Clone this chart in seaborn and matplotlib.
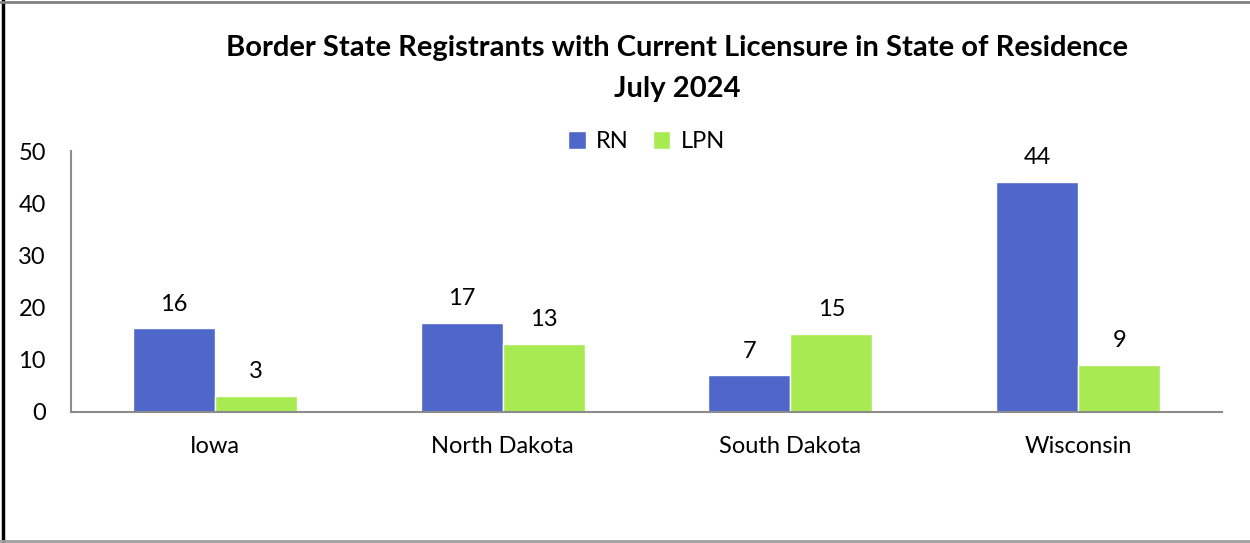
import matplotlib.pyplot as plt
import seaborn as sns
import pandas as pd
from matplotlib.lines import Line2D

states = ["Iowa", "North Dakota", "South Dakota", "Wisconsin"]
rn = [16, 17, 7, 44]
lpn = [3, 13, 15, 9]
series = ["RN", "LPN"]
colors = ["#4E67C8", "#A7EA52"]

df = pd.DataFrame({
    "State": states * 2,
    "Count": rn + lpn,
    "Type": ["RN"] * len(states) + ["LPN"] * len(states),
})

sns.set_style("white")
plt.rcParams["font.family"] = ["Lato", "DejaVu Sans"]
plt.rcParams["text.color"] = "black"

fig = plt.figure(figsize=(12.5, 5.43), dpi=100)
ax = fig.add_axes([0.0568, 0.2413, 0.9208, 0.4806])

sns.barplot(data=df, x="State", y="Count", hue="Type", hue_order=series,
            palette=colors, width=0.57, saturation=1, ax=ax, legend=True)

for cont in ax.containers:
    ax.bar_label(cont, padding=10, fontsize=17, color="black")

ax.set_ylim(0, 50)
ax.set_yticks([0, 10, 20, 30, 40, 50])
ax.set_xlabel("")
ax.set_ylabel("")
ax.tick_params(axis="both", length=0, labelsize=17, colors="black")
ax.tick_params(axis="x", pad=17)
ax.tick_params(axis="y", pad=18)
for s in ["top", "right"]:
    ax.spines[s].set_visible(False)
for s in ["left", "bottom"]:
    ax.spines[s].set_color("#8c8c8c")
    ax.spines[s].set_linewidth(1.5)

ax.legend(loc="center", bbox_to_anchor=(0.5, 1.035), ncol=2, frameon=False,
          fontsize=17, handlelength=0.75, handleheight=0.75, handletextpad=0.45,
          columnspacing=1.0)

fig.text(0.542, 0.911, "Border State Registrants with Current Licensure in State of Residence",
         ha="center", va="center", fontsize=21, fontweight="bold", color="black")
fig.text(0.542, 0.837, "July 2024", ha="center", va="center",
         fontsize=21, fontweight="bold", color="black")

# outer frame
fig.add_artist(Line2D([0.002, 0.002], [0, 1], transform=fig.transFigure,
                      color="black", linewidth=2.5))
fig.add_artist(Line2D([0, 1], [0.997, 0.997], transform=fig.transFigure,
                      color="#808080", linewidth=2))
fig.add_artist(Line2D([0, 1], [0.003, 0.003], transform=fig.transFigure,
                      color="#a0a0a0", linewidth=2))

fig.savefig("out.png", dpi=100)
